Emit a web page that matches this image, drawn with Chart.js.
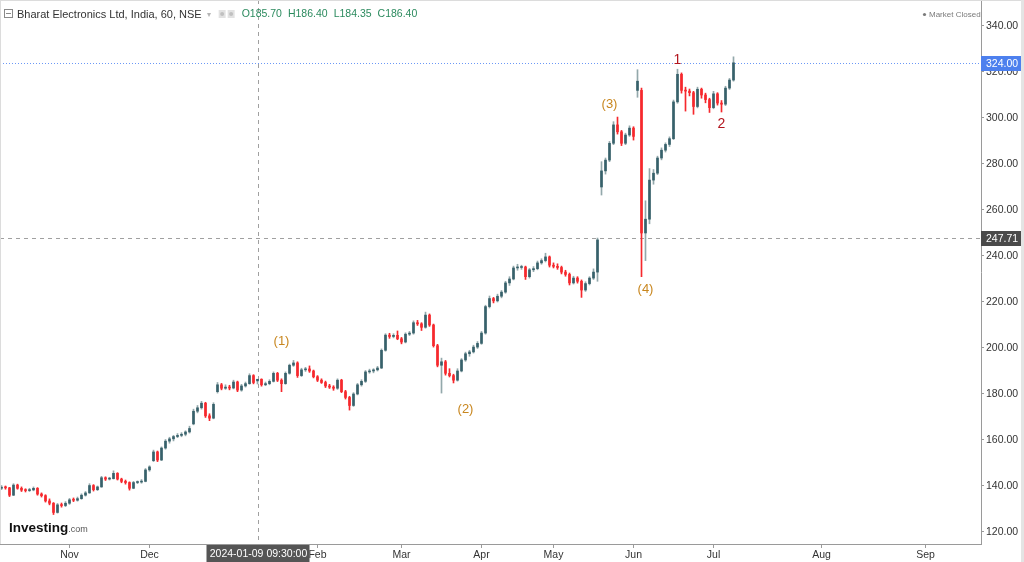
<!DOCTYPE html>
<html><head><meta charset="utf-8">
<script src="https://cdn.jsdelivr.net/npm/chart.js@4.4.1/dist/chart.umd.min.js"></script>
<style>html,body{margin:0;padding:0;background:#fff;overflow:hidden}canvas{display:block}</style>
</head><body>
<canvas id="c" width="1024" height="562"></canvas>
<script>
// ---- Data (one candle per trading session) ----
const candleOpen = [
139.0,139.5,139.2,136.0,140.4,139.0,138.2,138.0,138.3,139.0,
136.5,135.8,133.5,132.5,128.5,131.8,131.5,132.5,134.0,133.8,
134.5,136.0,137.0,140.2,138.4,139.6,143.6,143.0,143.2,145.5,
143.0,142.0,141.5,139.0,141.5,141.7,142.0,147.0,151.0,154.8,
151.3,156.5,159.5,160.5,161.5,162.0,162.5,163.5,167.0,172.5,
174.0,176.0,170.5,169.5,181.0,184.0,182.5,183.0,182.6,185.2,
181.7,183.5,184.5,188.0,185.7,186.4,184.0,184.5,185.5,189.0,
186.0,184.5,189.0,192.5,193.5,188.0,190.5,190.9,190.0,187.5,
186.0,185.0,183.5,183.0,182.5,186.0,181.0,178.5,175.0,180.0,
184.0,185.5,189.6,190.0,190.5,191.3,199.0,205.6,205.0,205.5,
204.0,202.6,206.0,206.5,211.0,210.5,209.0,214.3,210.0,201.0,
192.5,194.0,189.0,188.0,186.0,190.0,194.8,197.5,198.3,200.4,
202.0,206.5,218.0,221.5,220.5,222.5,224.3,228.3,230.0,234.8,
235.0,235.2,231.0,234.0,234.5,237.0,238.0,239.6,236.0,235.5,
235.0,233.0,232.0,228.3,230.4,229.0,225.2,228.0,230.4,233.0,
270.0,277.0,281.7,289.0,297.0,294.0,289.0,292.6,295.6,312.0,
312.0,250.0,256.0,273.0,276.0,282.6,286.0,288.5,291.0,307.0,
319.0,312.0,311.7,311.0,305.0,312.5,310.0,308.0,304.5,310.5,
306.5,306.0,313.0,316.5];
const candleHigh = [
140.2,140.0,139.4,141.0,140.8,139.6,138.8,139.0,139.6,139.3,
137.0,136.2,134.4,132.8,132.4,132.6,133.2,134.6,134.8,135.2,
136.6,137.6,141.0,140.6,140.0,144.2,144.0,143.8,146.6,145.8,
143.4,142.6,141.8,142.0,142.2,142.8,147.6,148.8,155.6,155.2,
157.0,160.2,161.2,162.0,162.8,163.2,164.0,166.0,173.4,175.0,
176.8,176.4,171.4,176.2,185.0,184.6,184.0,183.8,186.0,185.6,
184.2,185.2,188.8,188.4,186.4,186.6,185.2,186.2,189.6,189.4,
186.6,189.6,193.0,194.6,194.0,191.2,191.6,192.2,190.4,188.0,
186.6,185.6,184.2,183.6,186.6,186.4,181.6,179.0,180.6,184.6,
186.2,190.2,190.8,191.0,192.0,199.6,206.2,206.4,206.2,207.4,
204.6,206.6,207.2,211.8,212.0,211.0,215.6,214.8,210.4,201.6,
195.6,194.6,191.0,188.6,191.0,195.4,198.2,199.0,201.2,202.8,
207.2,218.6,222.6,222.0,223.4,225.0,229.0,231.0,235.6,236.4,
236.0,235.6,234.6,235.4,237.8,238.8,241.2,240.0,237.0,236.6,
235.6,233.8,232.6,231.2,231.0,229.6,228.8,231.0,234.4,247.8,
281.0,282.6,289.8,298.4,300.4,294.6,293.4,296.6,296.2,321.0,
313.0,264.0,278.0,277.6,283.4,287.0,289.2,291.8,307.8,321.2,
319.6,313.4,312.6,311.6,313.4,313.0,310.8,308.6,311.6,311.0,
307.6,313.8,317.2,326.6];
const candleLow = [
138.4,138.6,135.4,135.8,138.6,137.6,137.4,137.6,137.9,136.0,
135.2,133.0,131.8,127.6,128.2,130.8,131.0,132.0,133.2,133.4,
134.2,135.6,136.8,137.8,138.0,139.4,142.4,142.6,143.0,142.6,
141.4,140.8,138.2,138.8,141.0,141.2,141.8,146.4,150.6,150.6,
151.0,156.0,158.6,159.6,161.0,161.4,161.8,163.0,166.6,171.8,
173.4,169.8,168.4,169.2,180.4,181.8,182.0,181.8,182.2,181.0,
181.2,183.0,184.2,184.4,184.35,183.4,183.6,184.0,185.2,185.4,
181.0,184.2,188.6,192.0,187.2,187.6,189.8,189.4,187.0,185.4,
184.6,182.8,182.4,181.6,182.0,180.6,177.8,173.0,174.6,179.6,
183.4,185.0,189.0,189.2,190.0,191.0,198.6,204.2,204.4,203.6,
201.8,202.2,205.4,206.0,209.8,207.6,208.6,209.4,200.4,191.8,
180.4,188.2,187.4,184.8,185.6,189.6,194.2,196.4,197.8,199.8,
201.6,206.0,217.4,219.6,220.0,221.8,223.8,227.2,229.6,233.8,
234.2,229.8,230.4,233.2,234.0,236.4,237.4,235.2,234.8,234.2,
232.2,231.2,227.4,227.8,228.2,222.0,224.6,227.4,229.8,229.0,
266.5,275.6,281.0,288.4,293.0,288.0,288.4,292.0,290.4,309.0,
231.0,238.0,254.0,271.2,275.4,281.8,285.2,287.6,290.6,306.4,
310.8,303.0,309.6,301.6,304.4,308.6,306.6,302.4,304.0,305.6,
302.6,305.4,312.4,316.0];
const candleClose = [
139.5,139.2,136.0,140.4,139.0,138.2,138.0,138.3,139.0,136.5,
135.8,133.5,132.5,128.5,131.8,131.5,132.5,134.0,133.8,134.5,
136.0,137.0,140.2,138.4,139.6,143.6,143.0,143.2,145.5,143.0,
142.0,141.5,139.0,141.5,141.7,142.0,147.0,148.3,154.8,151.3,
156.5,159.5,160.5,161.5,162.0,162.5,163.5,165.0,172.5,174.0,
176.0,170.5,169.5,175.5,184.0,182.5,183.0,182.6,185.2,181.7,
183.5,184.5,188.0,185.0,186.4,184.0,184.5,185.5,189.0,186.0,
184.5,189.0,192.5,193.5,188.0,190.5,190.9,190.0,187.5,186.0,
185.0,183.5,183.0,182.5,186.0,181.0,178.5,175.0,180.0,184.0,
185.5,189.6,190.0,190.5,191.3,199.0,205.6,205.0,205.5,204.0,
202.6,206.0,206.5,211.0,210.5,209.0,214.3,210.0,201.0,192.5,
194.0,189.0,188.0,186.0,190.0,194.8,197.5,198.3,200.4,202.0,
206.5,218.0,221.5,220.5,222.5,224.3,228.3,230.0,234.8,235.0,
235.2,231.0,234.0,234.5,237.0,238.0,239.6,236.0,235.5,235.0,
233.0,232.0,228.3,230.4,229.0,225.2,228.0,230.4,233.0,247.0,
277.0,281.7,289.0,297.0,294.0,289.0,292.6,295.6,292.0,316.0,
250.0,256.0,273.0,276.0,282.6,286.0,288.5,291.0,307.0,319.0,
312.0,311.7,311.0,305.0,312.5,310.0,308.0,304.5,310.5,306.5,
306.0,313.0,316.5,324.0];

const monthTickIdx = [17, 37, 58, 79, 100, 120, 138, 158, 178, 205, 231];
const monthLabels  = ['Nov','Dec','Jan','Feb','Mar','Apr','May','Jun','Jul','Aug','Sep'];
const priceTicks   = [120,140,160,180,200,220,240,260,280,300,320,340];

const crosshairIdx = 64;
const crosshairPrice = 247.71;
const crosshairTime = '2024-01-09 09:30:00';

const waveLabels = [
  {text:'(1)', i:70,  p:203.0, color:'#c8861e', size:13},
  {text:'(2)', i:116, p:173.5, color:'#c8861e', size:13},
  {text:'(3)', i:152, p:306.1, color:'#c8861e', size:13},
  {text:'(4)', i:161, p:225.6, color:'#c8861e', size:13},
  {text:'1',   i:169, p:325.2, color:'#b3161f', size:14},
  {text:'2',   i:180, p:297.4, color:'#b3161f', size:14}
];

const titleText = 'Bharat Electronics Ltd, India, 60, NSE';

// ---- styles ----
const FONT = '"Liberation Sans", Arial, sans-serif';
const UP_BODY = '#37616b', UP_WICK = '#93a8ab', DOWN = '#f6282d';

const idx = candleClose.map((_, i) => i);
const isUp = i => candleClose[i] >= candleOpen[i];

const overlay = {
  id: 'overlay',
  beforeDatasetsDraw(chart) {
    const {ctx, chartArea: a, scales: {x, y}} = chart;
    ctx.save();
    ctx.lineWidth = 1;
    ctx.strokeStyle = '#a0a0a0';
    ctx.setLineDash([4, 4]);
    const cy = Math.round(y.getPixelForValue(crosshairPrice)) + 0.5;
    ctx.beginPath(); ctx.moveTo(a.left, cy); ctx.lineTo(a.right, cy); ctx.stroke();
    const cx = Math.round(x.getPixelForValue(crosshairIdx)) + 0.5;
    ctx.beginPath(); ctx.moveTo(cx, a.top); ctx.lineTo(cx, a.bottom); ctx.stroke();
    const last = candleClose[candleClose.length - 1];
    const ly = Math.round(y.getPixelForValue(last)) + 0.5;
    ctx.strokeStyle = '#6b98f6';
    ctx.setLineDash([1, 2]);
    ctx.beginPath(); ctx.moveTo(a.left, ly); ctx.lineTo(a.right, ly); ctx.stroke();
    ctx.restore();
  },
  afterDraw(chart) {
    const {ctx, chartArea: a, scales: {x, y}} = chart;
    ctx.save();
    ctx.fillStyle = '#dcdcdc';
    ctx.fillRect(0, 0, 1, a.bottom);
    ctx.fillRect(0, 0, 1024, 1);
    ctx.fillStyle = '#e4e4e4';
    ctx.fillRect(1021, 0, 3, 562);

    const tag = (val, bg) => {
      const py = y.getPixelForValue(val);
      ctx.fillStyle = bg;
      ctx.fillRect(a.right, Math.round(py) - 7, 40, 15);
      ctx.fillStyle = '#ffffff';
      ctx.font = '10.5px ' + FONT;
      ctx.textAlign = 'left'; ctx.textBaseline = 'middle';
      ctx.fillText(val.toFixed(2), a.right + 5, Math.round(py) + 1);
    };
    tag(candleClose[candleClose.length - 1], '#4d80ee');
    tag(crosshairPrice, '#4a4a4a');

    const cx = Math.round(x.getPixelForValue(crosshairIdx)) + 0.5;
    ctx.fillStyle = '#555555';
    ctx.fillRect(cx - 52, a.bottom + 1, 103, 18);
    ctx.fillStyle = '#ffffff';
    ctx.font = '10.5px ' + FONT;
    ctx.textAlign = 'center'; ctx.textBaseline = 'middle';
    ctx.fillText(crosshairTime, cx, a.bottom + 10);

    waveLabels.forEach(w => {
      ctx.fillStyle = w.color;
      ctx.font = w.size + 'px ' + FONT;
      ctx.textAlign = 'center'; ctx.textBaseline = 'middle';
      ctx.fillText(w.text, x.getPixelForValue(w.i), y.getPixelForValue(w.p));
    });

    ctx.strokeStyle = '#8a8a8a'; ctx.lineWidth = 1;
    ctx.strokeRect(4.5, 9.5, 8, 8);
    ctx.beginPath(); ctx.moveTo(6, 13.5); ctx.lineTo(11, 13.5); ctx.stroke();
    ctx.fillStyle = '#333333';
    ctx.font = '11px ' + FONT;
    ctx.textAlign = 'left'; ctx.textBaseline = 'middle';
    ctx.fillText(titleText, 17, 14.5);
    let tx = 17 + ctx.measureText(titleText).width + 5;
    ctx.fillStyle = '#b5b5b5';
    ctx.font = '8px ' + FONT;
    ctx.fillText('\u25BE', tx, 14.5);
    tx += 12;
    ctx.fillStyle = '#e2e2e2';
    ctx.fillRect(tx, 10, 7, 8); ctx.fillRect(tx + 9, 10, 7, 8);
    ctx.fillStyle = '#c0c0c0';
    ctx.beginPath(); ctx.arc(tx + 3.5, 14, 2, 0, Math.PI * 2); ctx.fill();
    ctx.beginPath(); ctx.arc(tx + 12.5, 14, 2, 0, Math.PI * 2); ctx.fill();
    tx += 23;
    const ci = crosshairIdx;
    const parts = [
      'O' + candleOpen[ci].toFixed(2), 'H' + candleHigh[ci].toFixed(2),
      'L' + candleLow[ci].toFixed(2), 'C' + candleClose[ci].toFixed(2)
    ];
    ctx.fillStyle = '#2b8a5e';
    ctx.font = '10.5px ' + FONT;
    parts.forEach(p => { ctx.fillText(p, tx, 14.5); tx += ctx.measureText(p).width + 6; });

    ctx.fillStyle = '#7a7a7a';
    ctx.beginPath(); ctx.arc(924.5, 14.5, 1.6, 0, Math.PI * 2); ctx.fill();
    ctx.font = '8px ' + FONT;
    ctx.textAlign = 'left';
    ctx.fillText('Market Closed', 929, 14.5);

    ctx.textBaseline = 'alphabetic';
    ctx.fillStyle = '#111111';
    ctx.font = 'bold 13.5px ' + FONT;
    ctx.fillText('Investing', 9, 532);
    const lw = ctx.measureText('Investing').width;
    ctx.fillStyle = '#555555';
    ctx.font = '9px ' + FONT;
    ctx.fillText('.com', 9 + lw, 532);
    ctx.restore();
  }
};

new Chart(document.getElementById('c'), {
  type: 'bar',
  data: {
    datasets: [
      {
        label: 'wick',
        data: idx.map(i => ({x: i, y: [candleLow[i], candleHigh[i]]})),
        backgroundColor: idx.map(i => isUp(i) ? UP_WICK : DOWN),
        barThickness: 1, grouped: false, order: 2
      },
      {
        label: 'body',
        data: idx.map(i => ({x: i, y: [candleOpen[i], candleClose[i]]})),
        backgroundColor: idx.map(i => isUp(i) ? UP_BODY : DOWN),
        barThickness: 2, minBarLength: 1, grouped: false, order: 1
      }
    ]
  },
  options: {
    responsive: false, animation: false, devicePixelRatio: 1,
    layout: {padding: 0},
    plugins: {legend: {display: false}, tooltip: {enabled: false}},
    scales: {
      x: {
        type: 'linear', min: -0.375, max: 244.875, offset: false, position: 'bottom',
        afterBuildTicks: s => { s.ticks = monthTickIdx.map(v => ({value: v})); },
        afterFit: s => { s.height = 18; s.paddingLeft = 0; s.paddingRight = 0; },
        ticks: {
          autoSkip: false, maxRotation: 0, padding: 1, color: '#333333',
          font: {family: FONT, size: 10.5},
          callback: v => { const k = monthTickIdx.indexOf(v); return k >= 0 ? monthLabels[k] : ''; }
        },
        grid: {offset: false, drawOnChartArea: false, drawTicks: true, tickLength: 4, color: '#9a9a9a'},
        border: {display: true, color: '#9a9a9a'}
      },
      y: {
        type: 'linear', position: 'right', min: 114.78, max: 351.3,
        afterBuildTicks: s => { s.ticks = priceTicks.map(v => ({value: v})); },
        afterFit: s => { s.width = 43; s.paddingTop = 0; s.paddingBottom = 0; },
        ticks: {padding: 2, color: '#333333', font: {family: FONT, size: 10.5}, callback: v => Number(v).toFixed(2)},
        grid: {offset: false, drawOnChartArea: false, drawTicks: true, tickLength: 3, color: '#9a9a9a'},
        border: {display: true, color: '#9a9a9a'}
      }
    }
  },
  plugins: [overlay]
});
</script>
</body></html>
